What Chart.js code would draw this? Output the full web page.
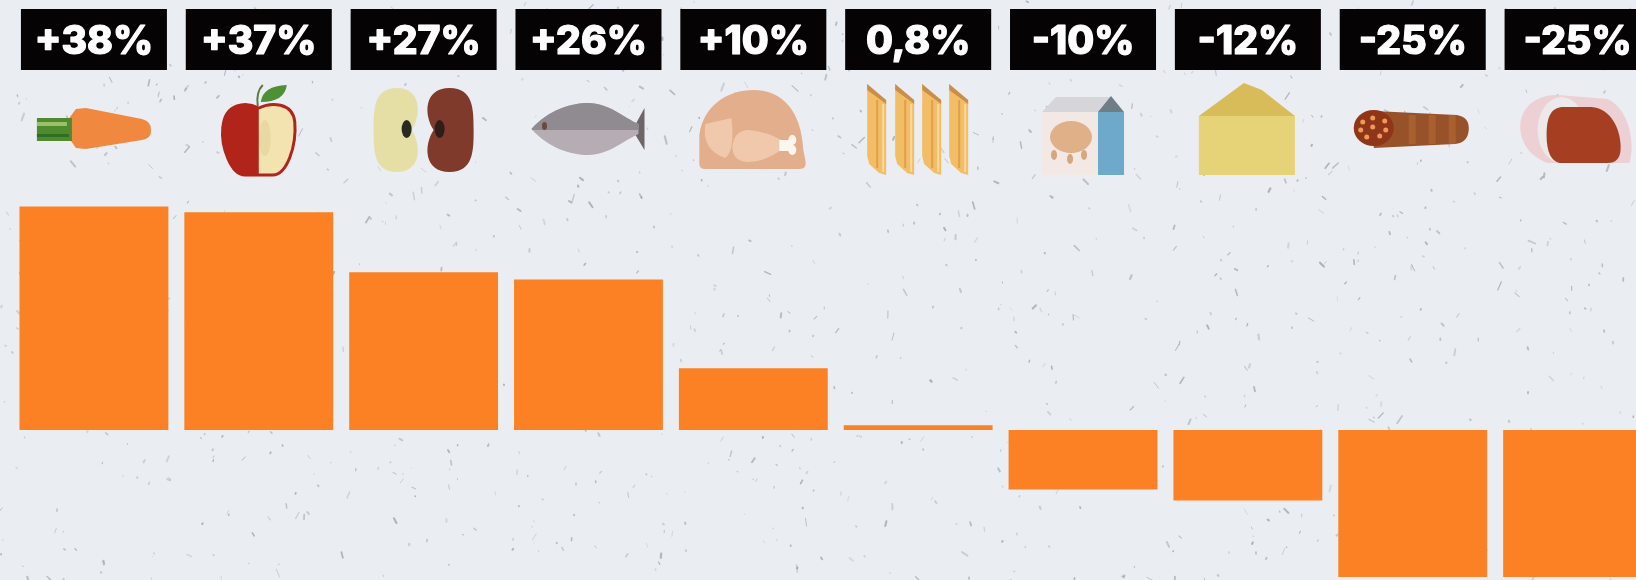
<!DOCTYPE html>
<html>
<head>
<meta charset="utf-8">
<style>
  html, body { margin: 0; padding: 0; width: 1636px; height: 580px; overflow: hidden; background: #eaedf1; }
  #chartFood { display: block; }
</style>
</head>
<body>
<canvas id="chartFood" width="1662" height="580"></canvas>
<script src="https://cdn.jsdelivr.net/npm/chart.js@4/dist/chart.umd.js"></script>
<script>
const foods = ['carrot', 'apple', 'beans', 'fish', 'chicken', 'penne', 'milk', 'cheese', 'salami', 'ham']
const changeLabels = ['+38%', '+37%', '+27%', '+26%', '+10%', '0,8%', '-10%', '-12%', '-25%', '-25%']
const changeValues = [38, 37, 26.8, 25.6, 10.5, 0.8, -10.1, -12, -25, -25]

function poly(c, color, pts) {
  c.fillStyle = color
  c.beginPath()
  pts.forEach((p, i) => i ? c.lineTo(p[0], p[1]) : c.moveTo(p[0], p[1]))
  c.closePath()
  c.fill()
}

function oval(c, color, x, y, rx, ry) {
  c.fillStyle = color
  c.beginPath()
  c.ellipse(x, y, rx, ry, 0, 0, Math.PI * 2)
  c.fill()
}

// little food pictures, x is relative to the middle of the category
const icons = {
  carrot(c) {
    c.fillStyle = '#f0883f'
    c.beginPath()
    c.moveTo(-32, 128)
    c.lineTo(-18, 109)
    c.lineTo(-8, 108)
    c.lineTo(48, 119)
    c.quadraticCurveTo(58, 122, 57, 130)
    c.quadraticCurveTo(58, 138, 48, 140)
    c.lineTo(-8, 149)
    c.lineTo(-18, 148)
    c.closePath()
    c.fill()
    c.fillStyle = '#4f8a2e'
    c.fillRect(-57, 118, 35, 23)
    c.fillStyle = '#9cc06a'
    c.fillRect(-57, 122, 30, 4)
    c.fillStyle = '#2f6e22'
    c.fillRect(-57, 134, 32, 3)
  },
  apple(c) {
    c.strokeStyle = '#5b7a35'
    c.lineWidth = 2
    c.beginPath()
    c.moveTo(-1, 106)
    c.quadraticCurveTo(-3, 92, 4, 85)
    c.stroke()
    c.fillStyle = '#4f8f35'
    c.beginPath()
    c.moveTo(2, 102)
    c.quadraticCurveTo(4, 86, 28, 85)
    c.quadraticCurveTo(26, 102, 2, 102)
    c.fill()
    const shape = () => {
      c.beginPath()
      c.moveTo(0, 108)
      c.bezierCurveTo(12, 102, 34, 102, 36, 122)
      c.bezierCurveTo(38, 146, 28, 175, 14, 175)
      c.lineTo(-14, 175)
      c.bezierCurveTo(-28, 175, -38, 146, -36, 128)
      c.bezierCurveTo(-34, 102, -12, 102, 0, 108)
      c.closePath()
    }
    c.fillStyle = '#f2e3b0'
    shape()
    c.fill()
    oval(c, '#e6d9a2', 6, 138, 6, 18)
    c.strokeStyle = '#b0241a'
    c.lineWidth = 3
    shape()
    c.stroke()
    c.save()
    c.beginPath()
    c.rect(-40, 100, 40, 80)
    c.clip()
    c.fillStyle = '#b0241a'
    shape()
    c.fill()
    c.restore()
  },
  beans(c) {
    const bean = (color, x0, x1, dir) => {
      const inner = dir > 0 ? x1 : x0
      const outer = dir > 0 ? x0 : x1
      const mid = (x0 + x1) / 2
      c.fillStyle = color
      c.beginPath()
      c.moveTo(inner - dir * 8, 130)
      c.bezierCurveTo(inner + dir * 2, 115, inner + dir * 2, 88, mid, 88)
      c.bezierCurveTo(outer, 88, outer, 110, outer, 130)
      c.bezierCurveTo(outer, 150, outer, 172, mid, 172)
      c.bezierCurveTo(inner + dir * 2, 172, inner + dir * 2, 145, inner - dir * 8, 130)
      c.fill()
    }
    bean('#e5dfa6', -50, -4, 1)
    bean('#7f3a2c', 2, 50, -1)
    oval(c, '#2b2a22', -17, 129, 5, 9)
    oval(c, '#2e1d18', 16, 129, 5, 9)
  },
  fish(c) {
    poly(c, '#6e6568', [[44, 130], [56, 108], [56, 150]])
    c.save()
    c.beginPath()
    c.moveTo(-57, 129)
    c.bezierCurveTo(-40, 110, -18, 103, 0, 103)
    c.bezierCurveTo(20, 103, 36, 118, 50, 124)
    c.lineTo(50, 134)
    c.bezierCurveTo(36, 140, 20, 155, 0, 155)
    c.bezierCurveTo(-18, 155, -40, 148, -57, 129)
    c.clip()
    c.fillStyle = '#b5adb3'
    c.fillRect(-60, 100, 112, 60)
    c.fillStyle = '#8f8b90'
    c.fillRect(-60, 100, 112, 30)
    c.restore()
    oval(c, '#6a4a40', -44, 126, 2.5, 4)
  },
  chicken(c) {
    c.fillStyle = '#e3ae8b'
    c.beginPath()
    c.moveTo(-54, 164)
    c.lineTo(-54, 135)
    c.bezierCurveTo(-50, 105, -25, 90, 0, 90)
    c.bezierCurveTo(30, 90, 48, 112, 50, 150)
    c.lineTo(52, 160)
    c.quadraticCurveTo(54, 169, 46, 169)
    c.lineTo(-48, 169)
    c.quadraticCurveTo(-54, 169, -54, 164)
    c.fill()
    c.fillStyle = '#f0c9ac'
    c.beginPath()
    c.moveTo(-48, 124)
    c.lineTo(-22, 118)
    c.quadraticCurveTo(-18, 150, -28, 158)
    c.quadraticCurveTo(-52, 150, -48, 124)
    c.fill()
    c.beginPath()
    c.moveTo(-21, 148)
    c.quadraticCurveTo(-20, 130, -4, 130)
    c.quadraticCurveTo(14, 132, 28, 140)
    c.lineTo(28, 150)
    c.quadraticCurveTo(10, 162, -4, 162)
    c.quadraticCurveTo(-20, 162, -21, 148)
    c.fill()
    c.fillStyle = '#fdf6ef'
    c.fillRect(26, 140, 14, 11)
    oval(c, '#fdf6ef', 39, 140, 4, 5)
    oval(c, '#fdf6ef', 39, 150, 4, 5)
  },
  penne(c) {
    ;[-51, -23, 4, 31].forEach(x => {
      poly(c, '#f3bd66', [[x, 84], [x + 19, 103], [x + 19, 175], [x + 12, 173], [x + 2, 164], [x, 156]])
      poly(c, '#c98f4a', [[x, 84], [x + 19, 100], [x + 19, 104], [x, 90]])
      c.fillStyle = '#dda04f'
      c.fillRect(x + 9, 100, 2, 68)
      c.fillStyle = '#f8d9a0'
      c.fillRect(x + 15, 104, 2, 68)
    })
  },
  milk(c) {
    c.fillStyle = '#f2e8e4'
    c.fillRect(-41, 112, 58, 63)
    poly(c, '#d6d6da', [[-41, 112], [-27, 97], [28, 97], [16, 112]])
    oval(c, '#e0b088', -12, 137, 21, 16)
    oval(c, '#d9a57c', -29, 155, 3, 5)
    oval(c, '#d9a57c', -13, 159, 3, 5)
    oval(c, '#d9a57c', 1, 155, 3, 5)
    c.fillStyle = '#6ea8cb'
    c.fillRect(15, 112, 26, 63)
    poly(c, '#6f7d88', [[15, 112], [28, 96], [41, 112]])
  },
  cheese(c) {
    poly(c, '#d8bc5a', [[-49, 116], [-4, 83], [14, 90], [47, 116]])
    c.fillStyle = '#e6d277'
    c.fillRect(-49, 116, 96, 59)
  },
  salami(c) {
    c.fillStyle = '#97522a'
    c.beginPath()
    c.moveTo(-39, 111)
    c.lineTo(44, 115)
    c.quadraticCurveTo(57, 117, 56, 130)
    c.quadraticCurveTo(55, 143, 42, 144)
    c.lineTo(-39, 148)
    c.closePath()
    c.fill()
    ;[-4, 16, 36].forEach(x => {
      c.fillStyle = '#a8602f'
      c.fillRect(x, 115, 7, 29)
    })
    oval(c, '#8f3518', -39, 128, 20, 18)
    const dots = [[-50, 122], [-40, 118], [-28, 121], [-52, 130], [-40, 127], [-27, 130], [-46, 137], [-33, 136]]
    dots.forEach(d => oval(c, '#f0985a', d[0], d[1], 2.5, 2.5))
  },
  ham(c) {
    c.fillStyle = '#ecd0d3'
    c.beginPath()
    c.moveTo(-30, 163)
    c.bezierCurveTo(-68, 150, -68, 95, -20, 95)
    c.lineTo(30, 99)
    c.bezierCurveTo(50, 108, 58, 140, 52, 163)
    c.closePath()
    c.fill()
    oval(c, '#ece9ea', -16, 130, 24, 33)
    c.fillStyle = '#a63f22'
    c.beginPath()
    c.moveTo(-31, 135)
    c.bezierCurveTo(-31, 116, -26, 107, -14, 107)
    c.lineTo(14, 107)
    c.bezierCurveTo(32, 108, 44, 128, 43, 150)
    c.quadraticCurveTo(42, 163, 30, 163)
    c.lineTo(-18, 163)
    c.quadraticCurveTo(-31, 160, -31, 135)
    c.fill()
  }
}

// paper speckle behind everything, seeded so each run looks the same
const speckle = {
  id: 'speckle',
  beforeDraw(chart) {
    const c = chart.ctx
    c.save()
    c.fillStyle = '#eaedf1'
    c.fillRect(0, 0, chart.width, chart.height)
    let seed = 4711
    const next = () => {
      seed = (seed * 16807) % 2147483647
      return seed / 2147483647
    }
    c.lineCap = 'round'
    for (let i = 0; i < 1100; i++) {
      const x = next() * chart.width
      const y = next() * chart.height
      const len = 0.5 + next() * next() * 9
      const ang = 1.4 + (next() - 0.5) * 2
      c.strokeStyle = 'rgba(140,146,154,' + (0.2 + next() * 0.45) + ')'
      c.lineWidth = 0.8 + next() * 1.4
      c.beginPath()
      c.moveTo(x, y)
      c.lineTo(x + Math.cos(ang) * len, y + Math.sin(ang) * len)
      c.stroke()
    }
    c.restore()
  }
}

// black percent boxes and the icons under them, placed from the x scale
const header = {
  id: 'header',
  afterDatasetsDraw(chart) {
    const c = chart.ctx
    const x = chart.scales.x
    foods.forEach((food, i) => {
      const cx = x.getPixelForValue(i)
      c.save()
      c.fillStyle = '#050304'
      c.fillRect(cx - 73, 9, 146, 61)
      c.fillStyle = '#ffffff'
      c.strokeStyle = '#ffffff'
      c.lineWidth = 1.2
      c.lineJoin = 'round'
      c.font = '800 39px Inter'
      c.textAlign = 'center'
      c.textBaseline = 'alphabetic'
      c.fillText(changeLabels[i], cx, 54)
      c.strokeText(changeLabels[i], cx, 54)
      c.translate(cx, 0)
      icons[food](c)
      c.restore()
    })
  }
}

new Chart(document.getElementById('chartFood'), {
  type: 'bar',
  data: {
    labels: foods,
    datasets: [{
      data: changeValues,
      backgroundColor: '#fb8124',
      borderWidth: 0,
      barPercentage: 0.903,
      categoryPercentage: 1
    }]
  },
  options: {
    responsive: false,
    animation: false,
    layout: { padding: { left: 11.5, right: 2, top: 0, bottom: 0 } },
    plugins: {
      legend: { display: false },
      tooltip: { enabled: false }
    },
    scales: {
      x: { display: false },
      y: { display: false, min: -25.5, max: 73.1 }
    }
  },
  plugins: [speckle, header]
})
</script>
</body>
</html>
